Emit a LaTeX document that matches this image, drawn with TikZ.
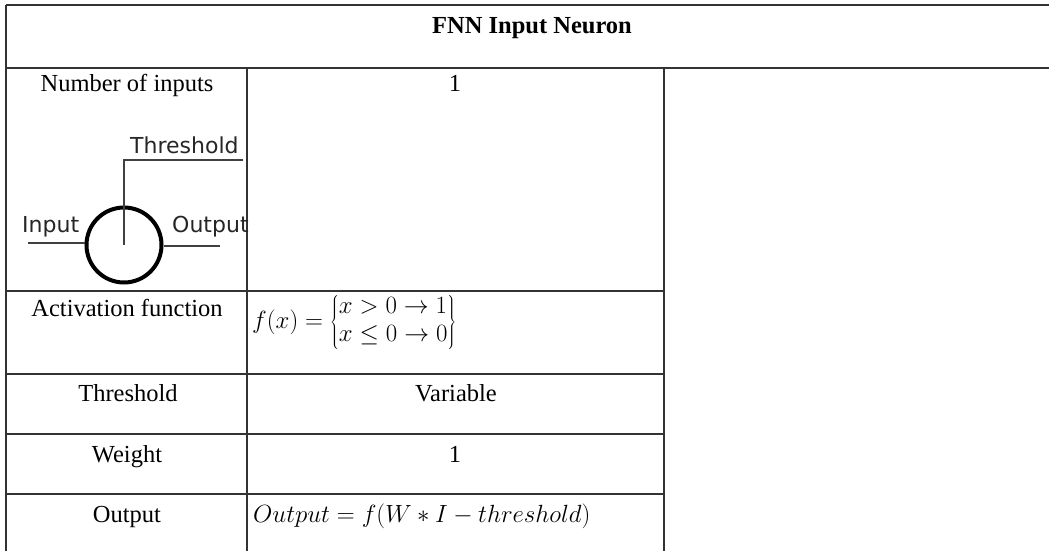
\documentclass[tikz,border=0pt]{standalone}
\usepackage{fontspec}
\setmainfont{Liberation Serif}
\newfontfamily\neurofont{DejaVu Sans}
\begin{document}
\begin{tikzpicture}[x=1pt,y=-1pt,
  grid/.style={line width=1.4pt, black!80},
  txt/.style={inner sep=0pt, font=\fontsize{24.5}{29}\selectfont, anchor=base},
  sans/.style={inner sep=0pt, font=\neurofont\fontsize{22}{26}\selectfont, anchor=base west, black!85},
  wire/.style={line width=1.5pt, black!75}]
\useasboundingbox (0,0) rectangle (1049,551);
% table grid
\coordinate (TL) at (6,5);
\coordinate (TR) at (1049,5);
\coordinate (HL) at (6,68);
\coordinate (HR) at (1049,68);
\coordinate (BL) at (6,551);
\coordinate (C1t) at (247,68);
\coordinate (C1b) at (247,551);
\coordinate (C2t) at (664,68);
\coordinate (C2b) at (664,551);
\draw[grid] (TL) -- (TR);
\draw[grid] (HL) -- (HR);
\draw[grid] (TL) -- (BL);
\draw[grid] (C1t) -- (C1b);
\draw[grid] (C2t) -- (C2b);
\foreach \yy in {291,374,434,494}
  \draw[grid] (6,\yy) -- (664,\yy);
% texts
\node[txt, font=\bfseries\fontsize{24.5}{29}\selectfont] (title) at (532,34) {FNN Input Neuron};
\node[txt] (l1) at (127,92) {Number of inputs};
\node[txt] (v1) at (455,92) {1};
\node[txt] (l2) at (127,316) {Activation function};
\node[inner sep=0pt, anchor=west, font=\fontsize{24}{28}\selectfont] (v2) at (252,322)
  {$f(x) = \left\{\begin{array}{@{}l@{}} x>0\to 1\\ x\le 0\to 0\end{array}\right\}$};
\node[txt] (l3) at (128,401) {Threshold};
\node[txt] (v3) at (456,401) {Variable};
\node[txt] (l4) at (127,462) {Weight};
\node[txt] (v4) at (455,462) {1};
\node[txt] (l5) at (127,522) {Output};
\node[txt, anchor=base west] (v5) at (253,522) {$Output = f(W * I - threshold)$};
% neuron sketch
\node[sans] (thr) at (130,153) {Threshold};
\node[sans] (inp) at (22,232) {Input};
\node[sans] (outp) at (172,232) {Output};
\node[draw, circle, line width=4pt, minimum size=75pt, inner sep=0pt] (neuron) at (124,245) {};
\coordinate (tA) at (124,160);
\coordinate (tB) at (243,160);
\coordinate (inA) at (28,243);
\coordinate (outB) at (220,246);
\draw[wire] (tB) -- (tA) -- (neuron.center);
\draw[wire, line width=2pt] (inA) -- (inA -| neuron.west);
\draw[wire, line width=2pt] (neuron.east |- outB) -- (outB);
\end{tikzpicture}
\end{document}
